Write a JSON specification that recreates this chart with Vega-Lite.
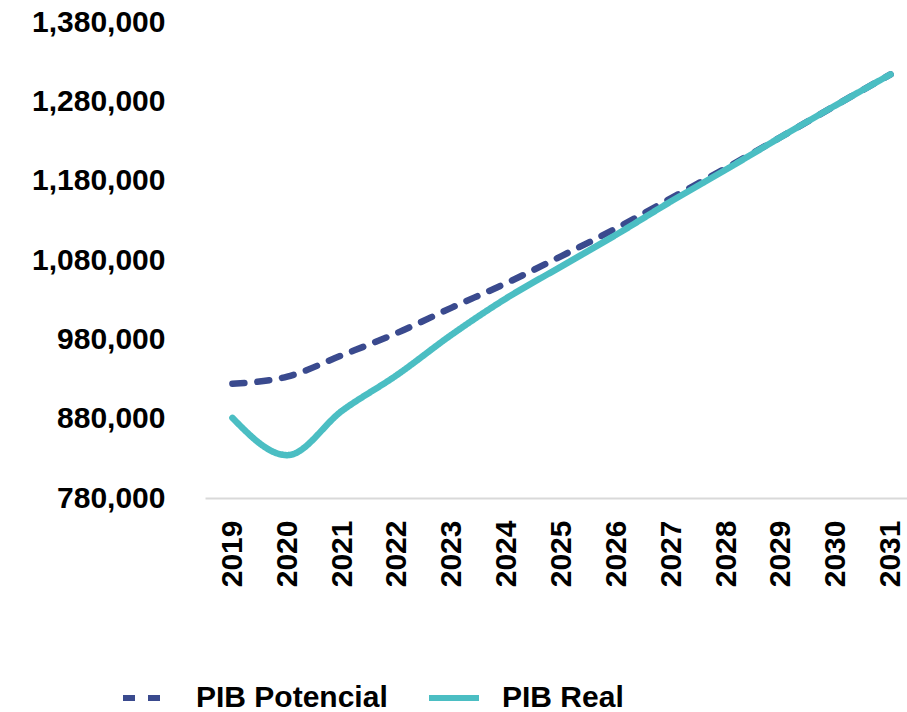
{
  "$schema": "https://vega.github.io/schema/vega-lite/v6.json",
  "autosize": "none",
  "padding": {"left": 205, "top": 22, "right": 0, "bottom": 214},
  "width": 702,
  "height": 476,
  "background": "white",
  "config": {
    "view": {"stroke": null},
    "font": "Liberation Sans"
  },
  "data": {
    "values": [
      {"year": 2019, "serie": "PIB Potencial", "valor": 924000},
      {"year": 2020, "serie": "PIB Potencial", "valor": 933000},
      {"year": 2021, "serie": "PIB Potencial", "valor": 960000},
      {"year": 2022, "serie": "PIB Potencial", "valor": 988000},
      {"year": 2023, "serie": "PIB Potencial", "valor": 1020000},
      {"year": 2024, "serie": "PIB Potencial", "valor": 1051000},
      {"year": 2025, "serie": "PIB Potencial", "valor": 1085000},
      {"year": 2026, "serie": "PIB Potencial", "valor": 1120000},
      {"year": 2027, "serie": "PIB Potencial", "valor": 1158000},
      {"year": 2028, "serie": "PIB Potencial", "valor": 1196000},
      {"year": 2029, "serie": "PIB Potencial", "valor": 1235000},
      {"year": 2030, "serie": "PIB Potencial", "valor": 1275000},
      {"year": 2031, "serie": "PIB Potencial", "valor": 1314000},
      {"year": 2019, "serie": "PIB Real", "valor": 881000},
      {"year": 2020, "serie": "PIB Real", "valor": 834000},
      {"year": 2021, "serie": "PIB Real", "valor": 890000},
      {"year": 2022, "serie": "PIB Real", "valor": 935000},
      {"year": 2023, "serie": "PIB Real", "valor": 986000},
      {"year": 2024, "serie": "PIB Real", "valor": 1032000},
      {"year": 2025, "serie": "PIB Real", "valor": 1072000},
      {"year": 2026, "serie": "PIB Real", "valor": 1112000},
      {"year": 2027, "serie": "PIB Real", "valor": 1154000},
      {"year": 2028, "serie": "PIB Real", "valor": 1194000},
      {"year": 2029, "serie": "PIB Real", "valor": 1235000},
      {"year": 2030, "serie": "PIB Real", "valor": 1275000},
      {"year": 2031, "serie": "PIB Real", "valor": 1314000}
    ]
  },
  "mark": {"type": "line", "interpolate": "monotone", "strokeWidth": 6.5, "strokeCap": "round"},
  "encoding": {
    "x": {
      "field": "year",
      "type": "quantitative",
      "scale": {"domain": [2018.5, 2031.3], "nice": false, "zero": false},
      "axis": {
        "title": null,
        "values": [2019, 2020, 2021, 2022, 2023, 2024, 2025, 2026, 2027, 2028, 2029, 2030, 2031],
        "format": "d",
        "labelAngle": -90,
        "labelFont": "Liberation Sans",
        "labelFontWeight": "bold",
        "labelFontSize": 30,
        "labelColor": "#000000",
        "labelPadding": 22,
        "ticks": false,
        "grid": false,
        "domainColor": "#D9D9D9",
        "domainWidth": 2,
        "labelOverlap": false,
        "labelFlush": false
      }
    },
    "y": {
      "field": "valor",
      "type": "quantitative",
      "scale": {"domain": [780000, 1380000], "nice": false, "zero": false},
      "axis": {
        "title": null,
        "values": [780000, 880000, 980000, 1080000, 1180000, 1280000, 1380000],
        "format": ",.0f",
        "labelFont": "Liberation Sans",
        "labelFontWeight": "bold",
        "labelFontSize": 30,
        "labelColor": "#000000",
        "labelPadding": 40,
        "ticks": false,
        "grid": false,
        "domain": false
      }
    },
    "color": {
      "field": "serie",
      "type": "nominal",
      "scale": {"domain": ["PIB Potencial", "PIB Real"], "range": ["#3A4A8E", "#4BBEC3"]},
      "legend": {
        "title": null,
        "orient": "none",
        "legendX": -85,
        "legendY": 648,
        "direction": "horizontal",
        "symbolType": "stroke",
        "symbolSize": 2500,
        "symbolStrokeWidth": 6,
        "labelFont": "Liberation Sans",
        "labelFontWeight": "bold",
        "labelFontSize": 30,
        "labelColor": "#000000",
        "labelOffset": 20,
        "columnPadding": 29,
        "labelLimit": 400
      }
    },
    "strokeDash": {
      "field": "serie",
      "type": "nominal",
      "scale": {"domain": ["PIB Potencial", "PIB Real"], "range": [[12, 13], [1, 0]]},
      "legend": {
        "title": null,
        "orient": "none",
        "legendX": -85,
        "legendY": 648,
        "direction": "horizontal",
        "symbolType": "stroke",
        "symbolSize": 2500,
        "symbolStrokeWidth": 6,
        "labelFont": "Liberation Sans",
        "labelFontWeight": "bold",
        "labelFontSize": 30,
        "labelColor": "#000000",
        "labelOffset": 20,
        "columnPadding": 29,
        "labelLimit": 400
      }
    }
  }
}
